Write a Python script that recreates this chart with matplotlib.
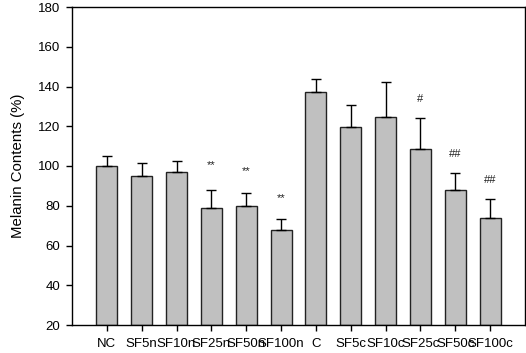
import matplotlib
matplotlib.use("Agg")
import matplotlib.pyplot as plt
import numpy as np

plt.rcParams['font.family'] = ['Liberation Sans', 'DejaVu Sans']

categories = ["NC", "SF5n", "SF10n", "SF25n", "SF50n", "SF100n", "C",
              "SF5c", "SF10c", "SF25c", "SF50c", "SF100c"]
values = [100.0, 95.0, 96.8, 79.0, 79.7, 67.8, 137.1, 119.5, 124.7, 108.6, 87.9, 73.7]
errors = [4.8, 6.4, 5.5, 9.1, 6.6, 5.4, 6.9, 11.2, 17.4, 15.6, 8.7, 9.9]
marks = ["", "", "", "**", "**", "**", "", "", "", "#", "##", "##"]
mark_y = [None, None, None, 100.5, 97.5, 84.0, None, None, None, 133.5, 106.0, 93.0]

fig = plt.figure(figsize=(5.26, 3.53), dpi=100)
ax = fig.add_axes([72/526, 1-325/353, (525-72)/526, (325-7)/353])

x = np.arange(len(categories))
ax.bar(x, [v - 20 for v in values], bottom=20, width=0.6, color="#c0c0c0",
       edgecolor="#222222", linewidth=1.0, zorder=2)
ax.errorbar(x, values, yerr=[np.zeros(len(errors)), errors], fmt="none",
            ecolor="black", elinewidth=1.0, capsize=3.6, capthick=1.0, zorder=3)
for xi, m, my in zip(x, marks, mark_y):
    if m:
        ax.text(xi, my, m, ha="center", va="center", fontsize=8, color="#222222")

ax.set_xlim(-1, 12)
ax.set_ylim(20, 180)
ax.set_yticks(np.arange(20, 181, 20))
ax.set_xticks(x)
ax.set_xticklabels(categories)
ax.tick_params(axis="both", direction="out", length=4.5, width=1, labelsize=9.5, pad=4)
ax.tick_params(axis="x", pad=5)
for s in ax.spines.values():
    s.set_linewidth(1.0)
ax.set_ylabel("Melanin Contents (%)", fontsize=10.8, labelpad=9)

fig.savefig("out.png", dpi=100)
